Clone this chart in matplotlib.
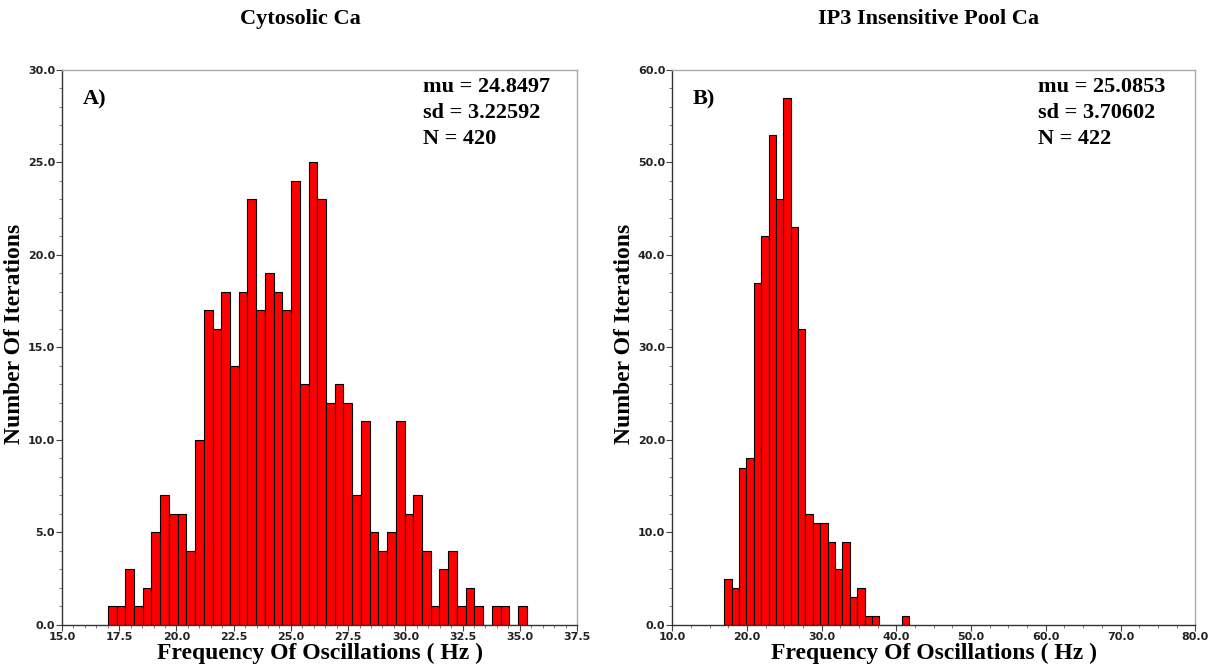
import numpy as np
import matplotlib
matplotlib.use("Agg")
import matplotlib.pyplot as plt
from matplotlib.ticker import MultipleLocator, FormatStrFormatter

# histogram counts (equal-width bins between the given limits)
cyto_counts = [1, 1, 3, 1, 2, 5, 7, 6, 6, 4, 10, 17, 16, 18, 14, 18, 23, 17, 19, 18,
               17, 24, 13, 25, 23, 12, 13, 12, 7, 11, 5, 4, 5, 11, 6, 7, 4, 1, 3, 4,
               1, 2, 1, 0, 1, 1, 0, 1]
cyto_range = (17.0, 35.3)
cyto_stats = ["mu = 24.8497", "sd = 3.22592", "N = 420"]

ip3_counts = [5, 4, 17, 18, 37, 42, 53, 46, 57, 43, 32, 12, 11, 11, 9, 6, 9, 3, 4, 1,
              1, 0, 0, 0, 1]
ip3_range = (16.95, 41.7)
ip3_stats = ["mu = 25.0853", "sd = 3.70602", "N = 422"]

serif = "Liberation Serif"

fig = plt.figure(figsize=(12.09, 6.68), dpi=100)
ax1 = fig.add_axes([0.0513, 0.0644, 0.426, 0.831])
ax2 = fig.add_axes([0.556, 0.0644, 0.4326, 0.831])


def draw_hist(ax, counts, rng, xlim, ylim, xmaj, xmin, ymaj, ymin, tag, stats):
    edges = np.linspace(rng[0], rng[1], len(counts) + 1)
    ax.bar(edges[:-1], counts, width=np.diff(edges), align="edge",
           color="#ff0000", edgecolor="black", linewidth=0.8)
    ax.set_xlim(*xlim)
    ax.set_ylim(*ylim)
    ax.xaxis.set_major_locator(MultipleLocator(xmaj))
    ax.xaxis.set_minor_locator(MultipleLocator(xmin))
    ax.yaxis.set_major_locator(MultipleLocator(ymaj))
    ax.yaxis.set_minor_locator(MultipleLocator(ymin))
    ax.xaxis.set_major_formatter(FormatStrFormatter("%.1f"))
    ax.yaxis.set_major_formatter(FormatStrFormatter("%.1f"))
    for lab in ax.get_xticklabels() + ax.get_yticklabels():
        lab.set_fontweight("bold")
        lab.set_fontsize(8)
        lab.set_color("#222222")
    ax.tick_params(which="major", length=4, width=0.8, color="#444444", pad=1)
    ax.tick_params(which="minor", length=2, width=0.6, color="#666666")
    for side in ["left", "bottom"]:
        ax.spines[side].set_color("#333333")
        ax.spines[side].set_linewidth(1.0)
    for side in ["top", "right"]:
        ax.spines[side].set_color("#aaaaaa")
        ax.spines[side].set_linewidth(1.0)
    ax.set_xlabel("Frequency Of Oscillations ( Hz )", family=serif,
                  fontweight="bold", fontsize=17)
    ax.xaxis.set_label_coords(0.5, -0.033)
    ax.set_ylabel("Number Of Iterations", family=serif,
                  fontweight="bold", fontsize=17)
    # keep the label just left of the tick labels, as in the original
    px = ax.get_position().width * fig.get_figwidth() * fig.dpi
    ax.yaxis.set_label_coords(-37 / px, 0.525)
    ax.text(0.04, 0.964, tag, transform=ax.transAxes, family=serif,
            fontweight="bold", fontsize=16, va="top")
    ax.text(0.70, 0.988, "\n".join(stats), transform=ax.transAxes, family=serif,
            fontweight="bold", fontsize=16, va="top", linespacing=1.4)


draw_hist(ax1, cyto_counts, cyto_range, (15.0, 37.5), (0, 30), 2.5, 0.5, 5, 1,
          "A)", cyto_stats)
draw_hist(ax2, ip3_counts, ip3_range, (10.0, 80.0), (0, 60), 10, 2.5, 10, 2,
          "B)", ip3_stats)

fig.text(300 / 1209, 1 - 19 / 668, "Cytosolic Ca", family=serif,
         fontweight="bold", fontsize=16, ha="center", va="center")
fig.text(928 / 1209, 1 - 19 / 668, "IP3 Insensitive Pool Ca", family=serif,
         fontweight="bold", fontsize=16, ha="center", va="center")

fig.savefig("out.png", dpi=100)
